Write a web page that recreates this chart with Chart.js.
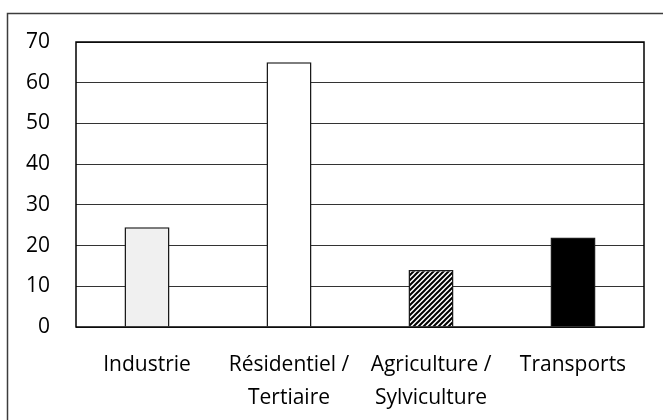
<!DOCTYPE html>
<html>
<head>
<meta charset="utf-8">
<script src="https://cdn.jsdelivr.net/npm/chart.js@4"></script>
<style>
    html, body { margin: 0; padding: 0; background: #fff; }
    #wrap { position: relative; width: 663px; height: 420px; }
</style>
</head>
<body>
<div id="wrap"><canvas id="chart"></canvas></div>
<script>
// données
const categories = ['Industrie', ['Résidentiel /', 'Tertiaire'], ['Agriculture /', 'Sylviculture'], 'Transports'];
const values = [24.5, 65, 14, 22];
const yTicks = [0, 10, 20, 30, 40, 50, 60, 70];

// motif hachuré pour Agriculture
function makeHatch() {
    const s = 5;
    const c = document.createElement('canvas');
    c.width = s; c.height = s;
    const g = c.getContext('2d');
    g.fillStyle = '#fff';
    g.fillRect(0, 0, s, s);
    g.strokeStyle = '#000';
    g.lineWidth = 2;
    g.beginPath();
    g.moveTo(-1, s + 1); g.lineTo(s + 1, -1);
    g.moveTo(-1, 1); g.lineTo(1, -1);
    g.moveTo(s - 1, s + 1); g.lineTo(s + 1, s - 1);
    g.stroke();
    return g.createPattern(c, 'repeat');
}

const fills = ['#f0f0f0', '#ffffff', makeHatch(), '#000000'];

// cadre extérieur + cadre de la zone de tracé
const frames = {
    id: 'frames',
    afterDraw(chart) {
        const ctx = chart.ctx;
        const a = chart.chartArea;
        ctx.save();
        ctx.strokeStyle = '#000';
        ctx.lineWidth = 1.5;
        ctx.strokeRect(a.left, a.top, a.right - a.left, a.bottom - a.top);
        ctx.strokeStyle = '#3c3c3c';
        ctx.strokeRect(7.5, 13.5, 700, 500);
        ctx.restore();
    }
};

new Chart(document.getElementById('chart'), {
    type: 'bar',
    data: {
        labels: categories,
        datasets: [{
            data: values,
            backgroundColor: fills,
            borderColor: '#1a1a1a',
            borderWidth: 1.5,
            barPercentage: 0.317,
            categoryPercentage: 1
        }]
    },
    options: {
        responsive: true,
        maintainAspectRatio: false,
        animation: false,
        layout: { padding: { left: 0, right: 19, top: 42, bottom: 0 } },
        plugins: {
            legend: { display: false },
            tooltip: { enabled: false }
        },
        scales: {
            x: {
                grid: { display: false, drawTicks: false },
                border: { display: false },
                ticks: {
                    color: '#000',
                    padding: 22,
                    maxRotation: 0,
                    autoSkip: false,
                    font: { family: 'Open Sans', size: 21, lineHeight: 1.55 }
                },
                afterFit(scale) { scale.height = 93; }
            },
            y: {
                min: 0,
                max: 70,
                afterBuildTicks(scale) { scale.ticks = yTicks.map(v => ({ value: v })); },
                grid: { color: '#333', lineWidth: 1, drawTicks: false },
                border: { display: false },
                ticks: {
                    color: '#000',
                    padding: 26,
                    font: { family: 'Open Sans', size: 21 }
                },
                afterFit(scale) { scale.width = 76; }
            }
        }
    },
    plugins: [frames]
});
</script>
</body>
</html>
